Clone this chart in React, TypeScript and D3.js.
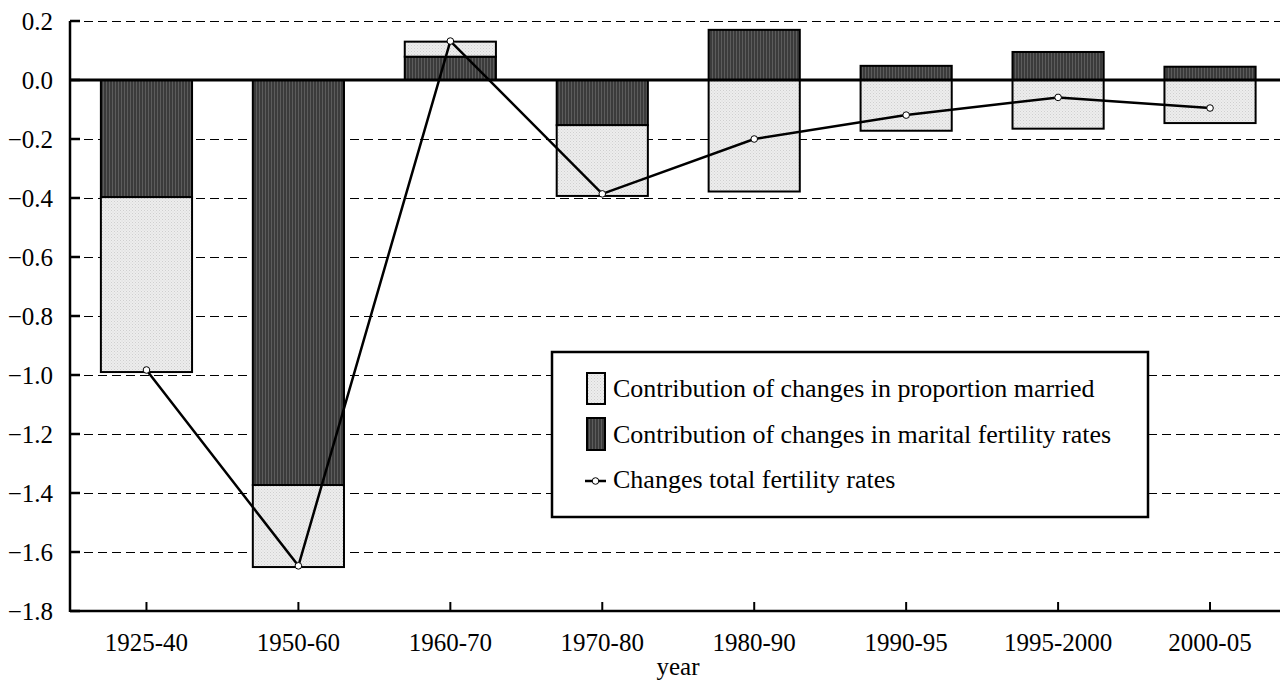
import React from "react";
import * as d3 from "d3";

const categories = ["1925-40", "1950-60", "1960-70", "1970-80", "1980-90", "1990-95", "1995-2000", "2000-05"];
const maritalFertility = [-0.397, -1.373, 0.079, -0.153, 0.17, 0.048, 0.095, 0.045];
const proportionMarried = [-0.593, -0.278, 0.051, -0.24, -0.378, -0.172, -0.165, -0.146];
const totalChange = [-0.983, -1.647, 0.132, -0.386, -0.2, -0.119, -0.059, -0.095];
const yTicks = [0.2, 0.0, -0.2, -0.4, -0.6, -0.8, -1.0, -1.2, -1.4, -1.6, -1.8];
const legendLabels = [
  "Contribution of changes in proportion married",
  "Contribution of changes in marital fertility rates",
  "Changes total fertility rates",
];

const W = 1280;
const H = 682;
const FONT = "'Liberation Serif', 'Times New Roman', serif";

export default function App() {
  const x = d3.scaleBand<string>().domain(categories).range([70.5, 1286]).paddingInner(0.4).paddingOuter(0.2);
  const y = d3.scaleLinear().domain([-1.8, 0.2]).range([611, 21]);

  const rows = categories.map((c, i) => ({ cat: c, marital: maritalFertility[i], proportion: proportionMarried[i] }));
  const stack = d3.stack<any>().keys(["marital", "proportion"]).offset(d3.stackOffsetDiverging);
  const series = stack(rows);
  const fills = { marital: "url(#darkPat)", proportion: "url(#lightPat)" } as Record<string, string>;

  const cx = (c: string) => (x(c) as number) + x.bandwidth() / 2;
  const line = d3
    .line<number>()
    .x((_, i) => cx(categories[i]))
    .y((d) => y(d));

  const fmt = d3.format(".1f");
  const left = 70;
  const right = W;

  return (
    <svg width={W} height={H} style={{ position: "absolute", left: 0, top: 0, background: "#fff" }} fontFamily={FONT}>
      <defs>
        <pattern id="darkPat" width="3" height="3" patternUnits="userSpaceOnUse">
          <rect width="3" height="3" fill="#3b3b3b" />
          <rect x="1" width="1" height="3" fill="#5c5c5c" />
        </pattern>
        <pattern id="lightPat" width="3" height="3" patternUnits="userSpaceOnUse">
          <rect width="3" height="3" fill="#ededed" />
          <rect x="0" y="0" width="1" height="1" fill="#cfcfcf" />
          <rect x="1.5" y="1.5" width="1" height="1" fill="#d8d8d8" />
        </pattern>
      </defs>
      <rect width={W} height={H} fill="#fff" />

      {/* gridlines */}
      {yTicks
        .filter((t) => t !== 0 && t !== -1.8)
        .map((t) => (
          <line key={t} x1={left} x2={right} y1={Math.round(y(t)) + 0.5} y2={Math.round(y(t)) + 0.5} stroke="#000" strokeWidth={1} strokeDasharray="9,5" />
        ))}

      {/* bars */}
      {series.map((s) =>
        s.map((d, i) => {
          const y0 = y(d[0]);
          const y1 = y(d[1]);
          return (
            <rect
              key={s.key + i}
              x={x(categories[i])}
              y={Math.min(y0, y1)}
              width={x.bandwidth()}
              height={Math.abs(y1 - y0)}
              fill={fills[s.key]}
              stroke="#000"
              strokeWidth={2}
            />
          );
        })
      )}

      {/* zero line */}
      <line x1={left} x2={right} y1={y(0)} y2={y(0)} stroke="#000" strokeWidth={3} />

      {/* total line */}
      <path d={line(totalChange) || ""} fill="none" stroke="#000" strokeWidth={2.5} />
      {totalChange.map((v, i) => (
        <circle key={i} cx={cx(categories[i])} cy={y(v)} r={3.3} fill="#fff" stroke="#000" strokeWidth={1} />
      ))}

      {/* y axis */}
      <line x1={left} x2={left} y1={y(0.2)} y2={y(-1.8) + 1} stroke="#000" strokeWidth={2.5} />
      {yTicks.map((t) => (
        <g key={t}>
          <line x1={left} x2={left + 10} y1={y(t)} y2={y(t)} stroke="#000" strokeWidth={2.5} />
          <text x={53} y={y(t) + 8.5} textAnchor="end" fontSize={25} fill="#000">
            {fmt(t)}
          </text>
        </g>
      ))}

      {/* x axis */}
      <line x1={left} x2={right} y1={y(-1.8)} y2={y(-1.8)} stroke="#000" strokeWidth={2.5} />
      {categories.map((c) => (
        <g key={c}>
          <line x1={cx(c)} x2={cx(c)} y1={y(-1.8)} y2={y(-1.8) - 9} stroke="#000" strokeWidth={2} />
          <text x={cx(c)} y={651} textAnchor="middle" fontSize={25} fill="#000">
            {c}
          </text>
        </g>
      ))}
      <text x={678} y={675} textAnchor="middle" fontSize={25} fill="#000">
        year
      </text>

      {/* legend */}
      <rect x={552} y={352} width={596} height={165} fill="#fff" stroke="#000" strokeWidth={2.5} />
      <rect x={587} y={373} width={18} height={31} fill="url(#lightPat)" stroke="#000" strokeWidth={2} />
      <rect x={587} y={418} width={18} height={32} fill="url(#darkPat)" stroke="#000" strokeWidth={2} />
      <line x1={585} x2={606} y1={481} y2={481} stroke="#000" strokeWidth={2.5} />
      <circle cx={595.5} cy={481} r={3.3} fill="#fff" stroke="#000" strokeWidth={1} />
      {legendLabels.map((l, i) => (
        <text key={l} x={613} y={397 + i * 45.5} fontSize={26} fill="#000">
          {l}
        </text>
      ))}
    </svg>
  );
}
